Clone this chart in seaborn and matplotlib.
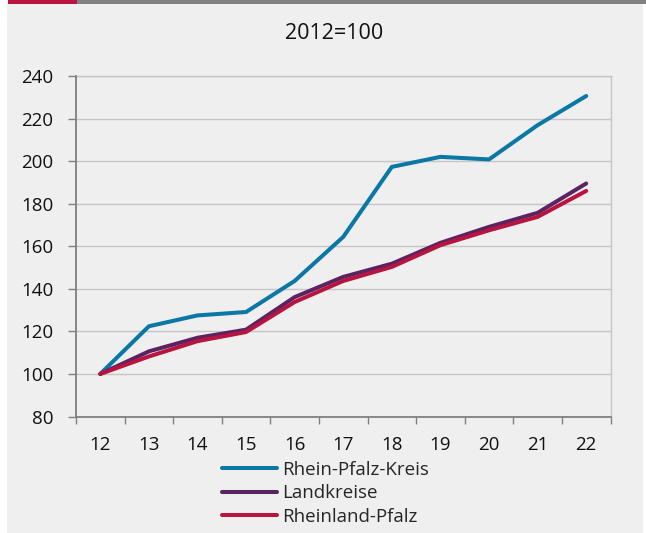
import matplotlib
matplotlib.use("Agg")
import matplotlib.pyplot as plt
from matplotlib.patches import Rectangle
import seaborn as sns
import pandas as pd

years = ["12", "13", "14", "15", "16", "17", "18", "19", "20", "21", "22"]
rhein_pfalz_kreis = [100, 122.4, 127.5, 129.1, 143.7, 164.4, 197.3, 202.0, 200.8, 216.9, 230.6]
landkreise = [100, 110.6, 117.0, 120.8, 136.1, 145.6, 151.8, 161.6, 169.1, 175.7, 189.5]
rheinland_pfalz = [100, 108.2, 115.4, 119.7, 133.8, 143.7, 150.3, 160.5, 167.5, 173.8, 186.0]
series_names = ["Rhein-Pfalz-Kreis", "Landkreise", "Rheinland-Pfalz"]
colors = ["#0b77a5", "#5a2462", "#b8143f"]

sns.set_theme(style="white")
plt.rcParams["font.family"] = ["Open Sans", "DejaVu Sans"]

rows = []
for name, vals in zip(series_names, [rhein_pfalz_kreis, landkreise, rheinland_pfalz]):
    for i, v in enumerate(vals):
        rows.append({"pos": i, "value": v, "series": name})
df = pd.DataFrame(rows)

W, H = 646, 533
fig = plt.figure(figsize=(W / 100, H / 100), dpi=100, facecolor="white")

panel = "#eeefee"
fig.patches.append(Rectangle((7 / W, 0), 636 / W, (H - 4) / H, transform=fig.transFigure,
                             facecolor=panel, edgecolor="none", zorder=-2))
fig.patches.append(Rectangle((8 / W, (H - 4) / H), 69 / W, 4 / H, transform=fig.transFigure,
                             facecolor="#b8143f", edgecolor="none", zorder=-1))
fig.patches.append(Rectangle((77 / W, (H - 4) / H), (W - 77) / W, 4 / H, transform=fig.transFigure,
                             facecolor="#808080", edgecolor="none", zorder=-1))

ax = fig.add_axes([76 / W, (H - 416.5) / H, (610.5 - 76) / W, (416.5 - 76) / H])
ax.set_zorder(2)
ax.set_facecolor(panel)

lw = 2.9
sns.lineplot(data=df, x="pos", y="value", hue="series", hue_order=series_names,
             palette=colors, linewidth=lw, ax=ax, legend=False, zorder=3)

ax.set_xlim(-0.5, len(years) - 0.5)
ax.set_ylim(80, 240)
ax.set_yticks(range(80, 241, 20))
ax.yaxis.grid(True, color="#c6c6c6", linewidth=1.0)
ax.xaxis.grid(False)

ax.set_xticks(range(len(years)))
ax.set_xticklabels(years)
ax.set_xticks([i - 0.5 for i in range(len(years) + 1)], minor=True)
ax.tick_params(axis="x", which="major", length=0, pad=14, labelsize=13.5, colors="#111111")
ax.tick_params(axis="x", which="minor", length=5, width=1, color="#808080", direction="out", bottom=True)
ax.tick_params(axis="y", which="major", length=6, width=1, color="#808080", direction="out",
               left=True, pad=10.5, labelsize=13.5, labelcolor="#111111")
ax.set_xlabel("")
ax.set_ylabel("")

for side in ["left", "bottom"]:
    ax.spines[side].set_color("#808080")
    ax.spines[side].set_linewidth(1.3)
for side in ["top", "right"]:
    ax.spines[side].set_color("#c6c6c6")
    ax.spines[side].set_linewidth(1.0)
ax.spines["left"].set_zorder(4)
ax.spines["bottom"].set_zorder(4)

fig.text(334 / W, (H - 33.5) / H, "2012=100", ha="center", va="center", fontsize=15.5, color="#111111")

handles = [plt.Line2D([], [], color=c, linewidth=lw) for c in colors]
fig.legend(handles, series_names, loc="upper left", bbox_to_anchor=(222 / W, (H - 461) / H),
           frameon=False, fontsize=13.5, handlelength=2.93, handletextpad=0.27,
           labelspacing=0.28, borderaxespad=0, borderpad=0)

fig.savefig("out.png", dpi=100, facecolor="white")
